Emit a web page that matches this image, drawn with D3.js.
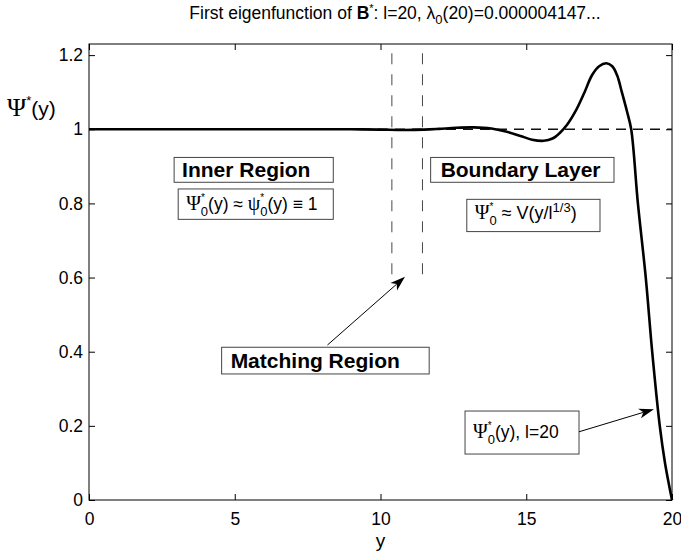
<!DOCTYPE html>
<html>
<head>
<meta charset="utf-8">
<script src="https://cdn.jsdelivr.net/npm/d3@7"></script>
<style>
  body { margin: 0; background: #fff; }
  svg { display: block; font-family: "Liberation Sans", Arial, Helvetica, sans-serif; }
</style>
</head>
<body>
<script>
// Curve: y position, Psi*(y)
const yPos = [0, 2, 4, 6, 8, 9, 10, 10.8, 11.5, 12, 12.6, 13.2, 13.8, 14.3, 14.8, 15.2, 15.6, 15.9, 16.15, 16.4,
  16.7, 17.0, 17.25, 17.5, 17.75, 17.95, 18.12, 18.28, 18.45, 18.6, 18.83, 19.1, 19.32, 19.58, 19.76, 19.9, 20];
const psi = [1, 1, 1, 1, 1, 1, 0.999, 0.998, 0.999, 1.001, 1.004, 1.005, 1.002, 0.994, 0.982, 0.972, 0.969, 0.975, 0.99, 1.012,
  1.05, 1.1, 1.145, 1.17, 1.178, 1.17, 1.145, 1.1, 1.05, 1.0, 0.8, 0.6, 0.4, 0.2, 0.1, 0.04, 0];

const xTicks = [0, 5, 10, 15, 20];
const yTicks = [0, 0.2, 0.4, 0.6, 0.8, 1, 1.2];
const matchLines = [10.39, 11.44];

const width = 681, height = 557;
const margin = { top: 44, right: 9, bottom: 57, left: 89 };

const svg = d3.select('body').append('svg')
  .attr('width', width)
  .attr('height', height);

const x = d3.scaleLinear().domain([0, 20]).range([margin.left, width - margin.right]);
const y = d3.scaleLinear().domain([0, 1.23]).range([height - margin.bottom, margin.top]);

// rich text helper: segments of {t, dx, dy, size, family, weight}
const richText = function(g, px, py, size, segs, anchor) {
  const t = g.append('text')
    .attr('x', px)
    .attr('y', py)
    .attr('font-size', size)
    .attr('text-anchor', anchor || 'start')
    .attr('fill', '#000');
  for (const s of segs) {
    const sp = t.append('tspan').text(s.t);
    if (s.dx) sp.attr('dx', s.dx);
    if (s.dy) sp.attr('dy', s.dy);
    if (s.size) sp.attr('font-size', s.size);
    if (s.family) sp.attr('font-family', s.family);
    if (s.weight) sp.attr('font-weight', s.weight);
  }
  return t;
};
const serif = '"Liberation Serif", "Times New Roman", serif';

// axes
svg.append('g')
  .attr('transform', `translate(0,${y(0)})`)
  .call(d3.axisBottom(x).tickValues(xTicks).tickSizeInner(-6).tickSizeOuter(0).tickPadding(13));
svg.append('g')
  .attr('transform', `translate(${x(0)},0)`)
  .call(d3.axisLeft(y).tickValues(yTicks).tickFormat(d3.format('~g')).tickSizeInner(-6).tickSizeOuter(0).tickPadding(6));
svg.append('g')
  .attr('transform', `translate(0,${y(1.23)})`)
  .call(d3.axisTop(x).tickValues(xTicks).tickSizeInner(-6).tickSizeOuter(0).tickFormat(''));
svg.append('g')
  .attr('transform', `translate(${x(20)},0)`)
  .call(d3.axisRight(y).tickValues(yTicks).tickSizeInner(-6).tickSizeOuter(0).tickFormat(''));

svg.selectAll('.domain').remove();
svg.selectAll('.tick line').attr('stroke', '#000');
svg.selectAll('.tick text')
  .attr('font-size', 17.5)
  .attr('font-family', '"Liberation Sans", Arial, sans-serif')
  .attr('fill', '#000');

svg.append('rect')
  .attr('x', x(0)).attr('y', y(1.23))
  .attr('width', x(20) - x(0)).attr('height', y(0) - y(1.23))
  .attr('fill', 'none').attr('stroke', '#000').attr('stroke-width', 1);

// reference lines
svg.append('line')
  .attr('x1', x(0)).attr('x2', x(20))
  .attr('y1', y(1)).attr('y2', y(1))
  .attr('stroke', '#111').attr('stroke-width', 1.5)
  .attr('stroke-dasharray', '10,7');

svg.selectAll('line.match')
  .data(matchLines)
  .join('line')
  .attr('class', 'match')
  .attr('x1', d => x(d)).attr('x2', d => x(d))
  .attr('y1', y(1.205)).attr('y2', y(0.6))
  .attr('stroke', '#333').attr('stroke-width', 0.9)
  .attr('stroke-dasharray', '11,10');

// curve
const line = d3.line()
  .x(d => x(d[0]))
  .y(d => y(d[1]))
  .curve(d3.curveCatmullRom.alpha(0.5));

svg.append('path')
  .datum(yPos.map((v, i) => [v, psi[i]]))
  .attr('d', line)
  .attr('fill', 'none')
  .attr('stroke', '#000')
  .attr('stroke-width', 2.6)
  .attr('stroke-linejoin', 'round');

// title
richText(svg, 395, 19, 17.5, [
  { t: 'First eigenfunction of  ' },
  { t: 'B', weight: 'bold' },
  { t: '*', dy: -7, size: 11 },
  { t: ': l=20, ', dy: 7 },
  { t: 'λ' },
  { t: '0', dy: 5, size: 13 },
  { t: '(20)=0.000004147...', dy: -5 }
], 'middle');

// axis labels
richText(svg, x(10), 547, 19, [{ t: 'y' }], 'middle');
richText(svg, 7, 116, 21, [
  { t: 'Ψ', family: serif, size: 26 },
  { t: '*', dy: -11, size: 13 },
  { t: '(y)', dy: 11 }
]);

// annotation boxes
const ann = svg.append('g');
const box = function(x0, y0, x1, y1) {
  ann.append('rect')
    .attr('x', x(x0)).attr('y', y(y0))
    .attr('width', x(x1) - x(x0)).attr('height', y(y1) - y(y0))
    .attr('fill', '#fff').attr('stroke', '#444').attr('stroke-width', 1);
};
const psiStar0 = [
  { t: 'Ψ', family: serif, size: 20 },
  { t: '*', dy: -9, size: 10 },
  { t: '0', dx: -4, dy: 15, size: 13 },
];

box(2.92, 0.924, 8.38, 0.857);
richText(ann, x(2.92) + 8, y(0.857) - 5, 21, [{ t: 'Inner Region', weight: 'bold' }]);

box(3.06, 0.839, 8.38, 0.757);
richText(ann, x(3.06) + 8, 210, 17.5, psiStar0.concat([
  { t: '(y) ≈ ', dy: -6 },
  { t: 'ψ', family: serif, size: 20 },
  { t: '*', dy: -9, size: 10 },
  { t: '0', dx: -4, dy: 15, size: 13 },
  { t: '(y) ≡ 1', dy: -6 }
]));

box(11.72, 0.924, 18.01, 0.857);
richText(ann, x(11.72) + 10, y(0.857) - 5, 21, [{ t: 'Boundary Layer', weight: 'bold' }]);

box(12.96, 0.811, 17.53, 0.724);
richText(ann, x(12.96) + 8, 219, 18, psiStar0.concat([
  { t: ' ≈ V(y/l', dy: -6 },
  { t: '1/3', dy: -7, size: 13 },
  { t: ')', dy: 7 }
]));

box(4.55, 0.412, 11.67, 0.340);
richText(ann, x(4.55) + 9, y(0.340) - 6, 21, [{ t: 'Matching Region', weight: 'bold' }]);

box(12.90, 0.240, 16.81, 0.124);
richText(ann, x(12.90) + 8, 438, 17.5, psiStar0.concat([
  { t: '(y), l=20', dy: -6 }
]));

// arrows
const arrow = function(xa, ya, xb, yb) {
  const ax = x(xa), ay = y(ya), bx = x(xb), by = y(yb);
  const ang = Math.atan2(by - ay, bx - ax);
  const len = 15, half = 5, back = 11;
  ann.append('line')
    .attr('x1', ax).attr('y1', ay)
    .attr('x2', bx - Math.cos(ang) * back).attr('y2', by - Math.sin(ang) * back)
    .attr('stroke', '#000').attr('stroke-width', 1);
  const pt = (l, w) => [bx - Math.cos(ang) * l - Math.sin(ang) * w, by - Math.sin(ang) * l + Math.cos(ang) * w];
  ann.append('path')
    .attr('d', 'M' + [pt(0, 0), pt(len, half), pt(back, 0), pt(len, -half)].map(p => p.join(',')).join('L') + 'Z')
    .attr('fill', '#000');
};
arrow(8.18, 0.418, 10.84, 0.602);
arrow(16.81, 0.184, 19.38, 0.245);
</script>
</body>
</html>
